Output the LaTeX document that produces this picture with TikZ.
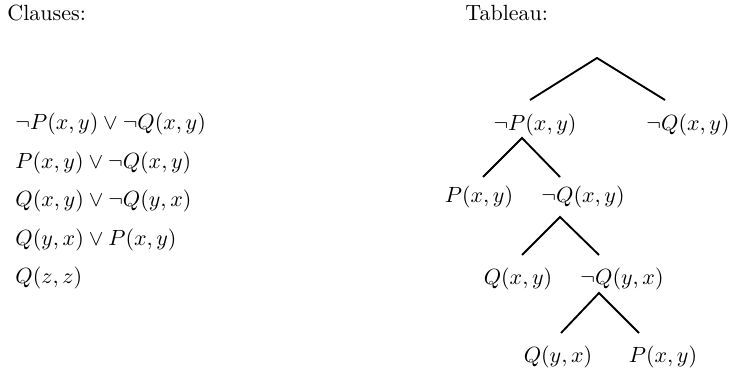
\documentclass[tikz,border=0pt]{standalone}
\begin{document}
\begin{tikzpicture}[x=0.4545pt,y=-0.4545pt,
  lbl/.style={inner sep=0pt,font=\normalsize},
  cl/.style={lbl,anchor=west},
  edge/.style={line width=0.85pt}]
\useasboundingbox (0,0) rectangle (733,373);
\node[lbl,anchor=west] (hc) at (7,13) {Clauses:};
\node[lbl,anchor=west] (ht) at (465,13) {Tableau:};
\node[cl] (c1) at (15,124) {$\neg P(x,y)\vee\neg Q(x,y)$};
\node[cl] (c2) at (15,163) {$P(x,y)\vee\neg Q(x,y)$};
\node[cl] (c3) at (15,201) {$Q(x,y)\vee\neg Q(y,x)$};
\node[cl] (c4) at (15,240) {$Q(y,x)\vee P(x,y)$};
\node[cl] (c5) at (15,278) {$Q(z,z)$};
% tableau
\coordinate (root) at (597,58);
\node[lbl] (n1) at (535,125) {$\neg P(x,y)$};
\node[lbl] (n2) at (688,125) {$\neg Q(x,y)$};
\node[lbl] (n3) at (479,197) {$P(x,y)$};
\node[lbl] (n4) at (583,197) {$\neg Q(x,y)$};
\node[lbl] (n5) at (518,279) {$Q(x,y)$};
\node[lbl] (n6) at (622,279) {$\neg Q(y,x)$};
\node[lbl] (n7) at (558,357) {$Q(y,x)$};
\node[lbl] (n8) at (663,357) {$P(x,y)$};
\coordinate (t1) at (530,100);
\coordinate (t2) at (665,100);
\coordinate (a1) at (522,138);
\coordinate (t3) at (483,177);
\coordinate (t4) at (560,177);
\coordinate (a2) at (560,217);
\coordinate (t5) at (522,255);
\coordinate (t6) at (599,255);
\coordinate (a3) at (599,293);
\coordinate (t7) at (561,333);
\coordinate (t8) at (639,333);
\draw[edge] (t1) -- (root) -- (t2);
\draw[edge] (t3) -- (a1) -- (t4);
\draw[edge] (t5) -- (a2) -- (t6);
\draw[edge] (t7) -- (a3) -- (t8);
\end{tikzpicture}
\end{document}
